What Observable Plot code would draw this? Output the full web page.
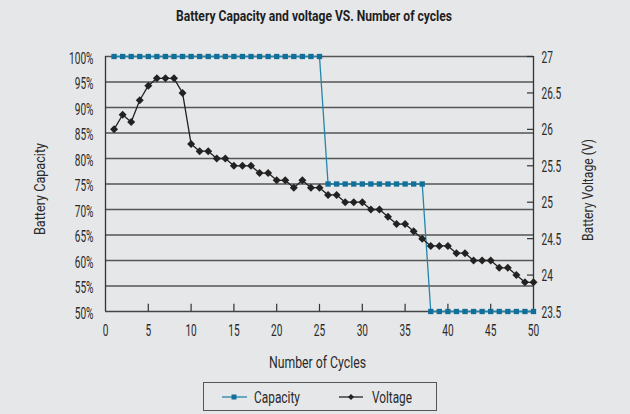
<!DOCTYPE html>
<html>
<head>
<meta charset="utf-8">
<script src="https://cdn.jsdelivr.net/npm/d3@7"></script>
<script src="https://cdn.jsdelivr.net/npm/@observablehq/plot@0.6"></script>
<style>
  html, body { margin: 0; padding: 0; background: #e6e7e9; }
  body { width: 630px; height: 414px; overflow: hidden; }
  svg text { font-family: Roboto, "DejaVu Sans", sans-serif; }
</style>
</head>
<body>
<div id="chart"></div>
<script>
const cycles = [1,2,3,4,5,6,7,8,9,10,11,12,13,14,15,16,17,18,19,20,21,22,23,24,25,26,27,28,29,30,31,32,33,34,35,36,37,38,39,40,41,42,43,44,45,46,47,48,49,50];
const capacity = [100,100,100,100,100,100,100,100,100,100,100,100,100,100,100,100,100,100,100,100,100,100,100,100,100,
                  75,75,75,75,75,75,75,75,75,75,75,75,
                  50,50,50,50,50,50,50,50,50,50,50,50,50];
const voltage = [26.0,26.2,26.1,26.4,26.6,26.7,26.7,26.7,26.5,25.8,
                 25.7,25.7,25.6,25.6,25.5,25.5,25.5,25.4,25.4,25.3,
                 25.3,25.2,25.3,25.2,25.2,25.1,25.1,25.0,25.0,25.0,
                 24.9,24.9,24.8,24.7,24.7,24.6,24.5,24.4,24.4,24.4,
                 24.3,24.3,24.2,24.2,24.2,24.1,24.1,24.0,23.9,23.9];
const capTicks = [50,55,60,65,70,75,80,85,90,95,100];
const voltTicks = [23.5,24,24.5,25,25.5,26,26.5,27];
const xTicks = [0,5,10,15,20,25,30,35,40,45,50];

const capDomain = [50,100];
const voltDomain = [23.5,27];
const toCap = v => capDomain[0] + (v - voltDomain[0]) * (capDomain[1]-capDomain[0]) / (voltDomain[1]-voltDomain[0]);

const capData = cycles.map((c,i) => ({c, y: capacity[i]}));
const voltData = cycles.map((c,i) => ({c, y: toCap(voltage[i])}));

const FONT = 'Roboto, "DejaVu Sans", sans-serif';
const capColor = "#11709a";
const capLine = "#2585a8";
const voltColor = "#222222";
const textColor = "#2a2a2a";

const plot = Plot.plot({
  width: 630,
  height: 414,
  marginTop: 56,
  marginBottom: 103,
  marginLeft: 105,
  marginRight: 97,
  style: {fontFamily: FONT, fontSize: "16px", background: "transparent", color: textColor},
  x: {domain: [0,50]},
  y: {domain: capDomain},
  marks: [
    Plot.ruleY(capTicks.filter(d => d > 50), {stroke: "#555", strokeWidth: 1.3}),
    Plot.ruleX([0], {stroke: "#333", strokeWidth: 1.3}),
    Plot.ruleX([50], {stroke: "#333", strokeWidth: 1.3}),
    Plot.ruleY([50], {stroke: "#444", strokeWidth: 1.4}),
    Plot.ruleX(xTicks.filter(d => d > 0 && d < 50), {y1: 50, y2: 51.4, stroke: "#333", strokeWidth: 1.2}),
    Plot.ruleY(voltTicks.map(toCap), {x1: 49.3, x2: 50, stroke: "#333", strokeWidth: 1.2}),
    Plot.axisY({ticks: capTicks, tickFormat: d => d + "%", tickSize: 0, tickPadding: 12, dy: 2, label: null, fontSize: 16}),
    Plot.axisY({anchor: "right", ticks: voltTicks.map(toCap), tickFormat: (d, i) => String(voltTicks[i]), tickSize: 0, tickPadding: 8, dy: 1, label: null, fontSize: 16}),
    Plot.axisX({ticks: xTicks, tickSize: 0, tickPadding: 13, label: null, fontSize: 16}),
    Plot.line(capData, {x: "c", y: "y", stroke: capLine, strokeWidth: 1.3}),
    Plot.dot(capData, {x: "c", y: "y", symbol: "square", r: 3, fill: capColor, stroke: "none"}),
    Plot.line(voltData, {x: "c", y: "y", stroke: voltColor, strokeWidth: 1.3}),
    Plot.dot(voltData, {x: "c", y: "y", symbol: "diamond2", r: 3.6, fill: voltColor, stroke: "none"})
  ]
});

document.getElementById("chart").appendChild(plot);

const svg = d3.select(plot);

// condense the axis tick labels (the reference uses a condensed DIN-style face)
svg.selectAll('g[aria-label$="tick label"] text').each(function() {
  const len = this.getComputedTextLength();
  d3.select(this).attr("textLength", (len * 0.63).toFixed(2)).attr("lengthAdjust", "spacingAndGlyphs");
});

function addText(attrs, str, target) {
  const t = svg.append("text").attr("text-anchor", "middle").attr("fill", textColor);
  for (const k in attrs) t.attr(k, attrs[k]);
  t.text(str);
  if (target) t.attr("textLength", target).attr("lengthAdjust", "spacingAndGlyphs");
  return t;
}

addText({x: 314, y: 21, "font-size": 15, "font-weight": "bold", fill: "#1e1e1e"}, "Battery Capacity and voltage VS. Number of cycles", 276);
addText({transform: "translate(45,189) rotate(-90)", "font-size": 15}, "Battery Capacity", 92);
addText({transform: "translate(593,190) rotate(-90)", "font-size": 15}, "Battery Voltage (V)", 102);
addText({x: 317.5, y: 368, "font-size": 16}, "Number of Cycles", 97);

// legend
const lg = svg.append("g");
lg.append("rect").attr("x", 203.5).attr("y", 382.5).attr("width", 233).attr("height", 28)
  .attr("fill", "none").attr("stroke", "#555").attr("stroke-width", 1);
lg.append("line").attr("x1", 222).attr("x2", 247).attr("y1", 397).attr("y2", 397).attr("stroke", capLine).attr("stroke-width", 1.3);
lg.append("rect").attr("x", 231.5).attr("y", 394.5).attr("width", 5).attr("height", 5).attr("fill", capColor);
addText({x: 254, y: 403, "font-size": 16, "text-anchor": "start"}, "Capacity", 46);
lg.append("line").attr("x1", 339).attr("x2", 363).attr("y1", 397).attr("y2", 397).attr("stroke", voltColor).attr("stroke-width", 1.3);
lg.append("path").attr("d", "M351,394L354,397L351,400L348,397Z").attr("fill", voltColor);
addText({x: 372, y: 403, "font-size": 16, "text-anchor": "start"}, "Voltage", 40);
</script>
</body>
</html>
